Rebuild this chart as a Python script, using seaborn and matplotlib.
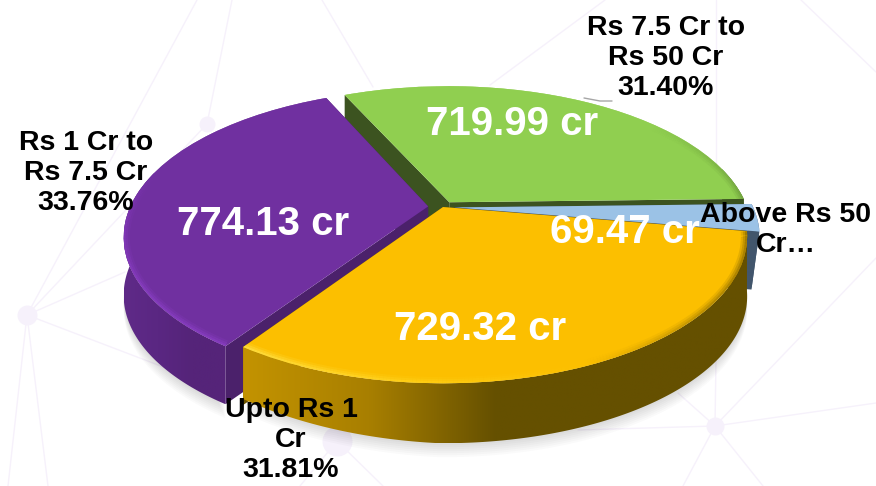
#%% imports
import numpy as np
import matplotlib
matplotlib.use('Agg')
import matplotlib.pyplot as plt
from matplotlib.collections import LineCollection
from matplotlib.patches import Polygon
from matplotlib.transforms import Transform
import seaborn as sns

#%% data
categories = ['Upto Rs 1 Cr', 'Above Rs 50 Cr', 'Rs 7.5 Cr to Rs 50 Cr', 'Rs 1 Cr to Rs 7.5 Cr']
values = [729.32, 69.47, 719.99, 774.13]
value_labels = ['729.32 cr', '69.47 cr', '719.99 cr', '774.13 cr']
share_labels = ['Upto Rs 1\nCr\n31.81%', 'Above Rs 50\nCr…', 'Rs 7.5 Cr to\nRs 50 Cr\n31.40%', 'Rs 1 Cr to\nRs 7.5 Cr\n33.76%']
explode = [0, 0.04, 0.04, 0.05]

#%% style
sns.set_theme(style='white')
plt.rcParams['font.family'] = ['Liberation Sans', 'DejaVu Sans']

face_colors = ['#fcbf00', '#9bc2e6', '#90cf50', '#7030a0']
cut_colors = ['#6b5200', '#42566c', '#3c5320', '#4b216b']
side_ramps = [
  ['#c39300', '#a87f00', '#655000', '#655000', '#655000'],
  ['#42566c', '#42566c'],
  ['#3c5320', '#3c5320'],
  ['#5f2a88', '#5a2782', '#552479', '#552479'],
]
rim_ramps = [
  ['#ffe24a', '#ffd21a', '#fcbf00', '#a98100', '#8a6a00'],
  ['#9bc2e6', '#9bc2e6'],
  ['#6f9f3e', '#90cf50', '#90cf50', '#90cf50'],
  ['#7030a0', '#7030a0', '#7030a0', '#8238b8', '#8a3fc4', '#8a3fc4'],
]
wall_lean = [0, -8, 0, 0]
text_positions = [(291, 440), (786, 230), (666, 58), (86, 173)]
value_positions = [(480, 329), (625, 232), (512, 124), (263, 224)]
draw_order = [2, 1, 3, 0]
depth = 58
pale = '#f6f1fb'

apex = (443, 207)
radius_x, radius_y, tilt = 298, 141, 0.2


class Tilt(Transform):
  input_dims = 2
  output_dims = 2
  is_separable = False
  has_inverse = False

  def transform_non_affine(self, values):
    xy = np.asarray(values, dtype=float)
    w = 1 + tilt * xy[:, 1]
    return np.column_stack([apex[0] + radius_x * xy[:, 0] / w, apex[1] - radius_y * xy[:, 1] / w])


tilted = Tilt()


def arc_points(wedge, n=200, front_only=False):
  t = np.radians(np.linspace(wedge.theta1, wedge.theta2, n))
  if front_only:
    t = t[np.sin(t) < 0.25]
  cx, cy = wedge.center
  return tilted.transform(np.column_stack([cx + wedge.r * np.cos(t), cy + wedge.r * np.sin(t)]))


def wall_depth(i, xs):
  # the left end of the orange slice is a little shallower
  if i == 0:
    return np.interp(xs, [246, 440], [52, 60])
  return np.full_like(xs, depth)


#%% plot
fig = plt.figure(figsize=(8.76, 4.86), dpi=100, facecolor='white')
ax = fig.add_axes([0, 0, 1, 1])

wedges, _ = ax.pie(values, explode=explode, colors=face_colors, startangle=235.97, counterclock=True, radius=1)
ax.set_aspect('auto')

# faint network behind the chart
nodes = [(207, 124, 8), (27, 315, 10), (337, 441, 15), (715, 426, 9)]
links = [
  (197, 0, 27, 315), (232, 0, 207, 124), (322, 0, 373, 87), (207, 124, 27, 315), (27, 315, 125, 272),
  (27, 315, 200, 381), (27, 315, 8, 486), (27, 315, 48, 486), (605, 0, 490, 85), (716, 0, 716, 200),
  (801, 0, 876, 72), (715, 426, 876, 403), (715, 426, 716, 360), (715, 426, 876, 258), (715, 426, 683, 486),
  (715, 426, 763, 486), (715, 426, 578, 430), (715, 426, 678, 393), (337, 441, 300, 486), (337, 441, 383, 486),
]
for x0, y0, x1, y1 in links:
  ax.plot([x0, x1], [y0, y1], color=pale, lw=1, zorder=0)
for x0, y0, size in nodes:
  ax.scatter([x0], [y0], s=(size * 1.44) ** 2, color=pale, linewidths=0, zorder=1)

# soft shadow under the body
for step in range(2, 15, 2):
  for i in [0, 3]:
    arc = arc_points(wedges[i], front_only=True)
    ax.fill(arc[:, 0], arc[:, 1] + wall_depth(i, arc[:, 0]) + step, color='black', alpha=0.018, lw=0, zorder=2)

for rank, i in enumerate(draw_order):
  wedge = wedges[i]
  base = 3 + rank * 5
  arc = arc_points(wedge)
  centre = tilted.transform(np.array([wedge.center]))[0]

  # flat walls on both cuts
  for end in (arc[0], arc[-1]):
    xs = np.array([centre[0], end[0], end[0] + wall_lean[i], centre[0]])
    ys = np.array([centre[1], end[1], end[1] + depth, centre[1] + depth])
    ax.fill(xs, ys, color=cut_colors[i], lw=0, zorder=base)

  # curved outer wall with a left to right ramp, only the part facing the viewer
  front = arc_points(wedge, front_only=True)
  lower = front + np.column_stack([np.full(len(front), wall_lean[i]), wall_depth(i, front[:, 0])])
  outer = np.vstack([front, lower[::-1]])
  clip = Polygon(outer, closed=True, transform=ax.transData, fc='none', ec='none', zorder=base + 1)
  ax.add_patch(clip)
  ramp = sns.blend_palette(side_ramps[i], as_cmap=True)
  image = ax.imshow(
    np.linspace(0, 1, 256)[None, :],
    extent=[outer[:, 0].min(), outer[:, 0].max(), outer[:, 1].max(), outer[:, 1].min()],
    cmap=ramp, aspect='auto', zorder=base + 1,
  )
  image.set_clip_path(clip)

  # top face
  wedge.set_transform(tilted + ax.transData)
  wedge.set_edgecolor('none')
  wedge.set_zorder(base + 2)

  # bevel along the rim, kept inside the face
  segments = np.stack([arc[:-1], arc[1:]], axis=1)
  rim_map = sns.blend_palette(rim_ramps[i], as_cmap=True)
  shades = rim_map(np.linspace(0, 1, len(segments)))
  for lw, alpha in [(9, 0.2), (6, 0.35), (3, 0.6)]:
    tinted = shades.copy()
    tinted[:, 3] = alpha
    bevel = LineCollection(segments, colors=tinted, linewidths=lw, zorder=base + 3, capstyle='butt')
    ax.add_collection(bevel)
    bevel.set_clip_path(wedge)

# leader line of the green slice
ax.plot([584, 600, 612], [98, 101, 101], color='#a6a6a6', lw=1, zorder=29)

for label, (x, y) in zip(share_labels, text_positions):
  ax.text(x, y, label, ha='center', va='center', fontsize=20.5, fontweight='bold', color='black', linespacing=1.2, zorder=31)
for label, (x, y) in zip(value_labels, value_positions):
  ax.text(x, y, label, ha='center', va='center', fontsize=29, fontweight='bold', color='white', zorder=30)

ax.set_xlim(0, 876)
ax.set_ylim(486, 0)
ax.axis('off')

fig.savefig('out.png', dpi=100, facecolor='white')
